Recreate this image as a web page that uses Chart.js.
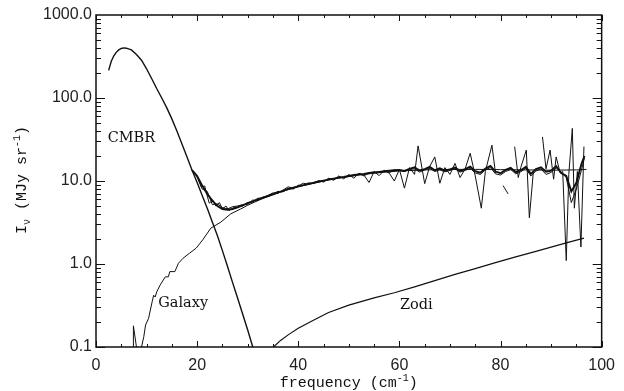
<!DOCTYPE html>
<html>
<head>
<meta charset="utf-8">
<script src="https://cdn.jsdelivr.net/npm/chart.js@4.4.1/dist/chart.umd.min.js"></script>
<style>
  html, body { margin: 0; padding: 0; background: #fff; }
  canvas { display: block; }
</style>
</head>
<body>
<canvas id="spectrum" width="624" height="391"></canvas>
<script>
// CMBR blackbody curve
const cmbrFreq = [2.5, 3, 3.5, 4, 4.5, 5, 5.5, 6, 7, 8, 9, 10, 11, 12, 13, 14, 15, 16, 17, 18, 19, 20, 21, 22, 23, 24, 25, 26, 27, 28, 29, 30, 31, 32];
const cmbr = [215, 275, 320, 355, 380, 395, 402, 398, 380, 335, 285, 225, 172, 130, 100, 76, 56, 40, 28, 19.5, 13.5, 9.6, 6.7, 4.7, 3.2, 2.2, 1.45, 0.94, 0.6, 0.39, 0.25, 0.16, 0.1, 0.062];

// Galaxy model
const galFreq = [7.35, 7.4, 8.0, 8.3, 8.9, 9.0, 9.45, 9.8, 10.4, 11.1, 11.4, 11.7, 12.0, 12.7, 13.7, 14.3, 14.6, 15.6, 16.3, 17.2, 18.5, 19.8, 21.1, 22.7, 24.7, 26.6, 28.6, 30, 32, 34, 36, 38, 40, 42, 44, 46, 48, 50, 52, 54, 56, 58, 60, 65, 70, 75, 80, 85, 90, 95, 97];
const galaxy = [0.02, 0.18, 0.1, 0.05, 0.07, 0.1, 0.133, 0.184, 0.222, 0.35, 0.42, 0.40, 0.46, 0.56, 0.70, 0.70, 0.81, 0.81, 1.02, 1.17, 1.35, 1.55, 1.95, 2.7, 3.2, 4.0, 4.6, 5.1, 5.8, 6.5, 7.2, 7.9, 8.5, 9.1, 9.7, 10.3, 10.8, 11.3, 11.8, 12.2, 12.6, 12.9, 13.2, 13.6, 13.8, 13.8, 13.7, 13.6, 13.5, 13.6, 13.8];

// Zodiacal light model
const zodiFreq = [34.5, 35.1, 36.5, 38, 40, 43, 46, 50, 55, 59, 63, 67, 71, 75, 79, 83, 87, 90, 93, 96.5];
const zodi = [0.09, 0.1, 0.12, 0.14, 0.168, 0.21, 0.26, 0.32, 0.39, 0.45, 0.53, 0.63, 0.75, 0.88, 1.04, 1.22, 1.42, 1.6, 1.8, 2.05];

// measured spectra
const freqA = [19, 20, 21, 22, 23, 24, 25, 26, 27, 28, 29, 30, 31, 32, 33, 34, 35, 36, 37, 38, 39, 40, 41, 42, 43, 44, 45, 46, 47, 48, 49, 50, 51, 52, 53, 54, 55, 56, 57, 58, 59, 60, 61, 62, 63, 64, 65, 66, 67, 68, 69, 70, 71, 72, 73, 74, 75, 76, 77, 78, 79, 80, 81, 82, 83, 84, 85, 86, 87, 88, 89, 90, 91, 92, 93, 94, 95, 96, 96.6];
const specA = [13.5, 11.5, 8.8, 7.0, 5.8, 5.0, 4.6, 4.5, 4.6, 4.8, 5.1, 5.4, 5.7, 6.0, 6.3, 6.6, 6.9, 7.3, 7.6, 8.0, 8.3, 8.6, 8.9, 9.2, 9.5, 9.8, 10.1, 10.4, 10.7, 11.0, 11.2, 11.5, 11.8, 12.0, 12.2, 12.5, 12.7, 12.9, 13.1, 13.3, 13.5, 13.6, 13.2, 14.0, 14.6, 13.4, 13.9, 14.8, 13.5, 14.2, 13.3, 13.8, 14.5, 13.2, 13.9, 14.9, 13.1, 12.6, 14.1, 15.2, 13.0, 12.4, 13.6, 14.4, 12.8, 13.5, 14.8, 12.2, 13.9, 14.6, 12.9, 13.3, 15.1, 12.5, 11.5, 7.5, 9.5, 16.0, 20.0];

const freqB = [19, 20, 20.8, 21.5, 22, 22.4, 23.1, 23.7, 24.4, 25, 25.7, 26.3, 27, 28, 29, 30, 31, 32, 33, 34, 35, 36, 37, 38, 39, 40, 41, 42, 43, 44, 45, 46, 47, 48, 49, 50, 51, 52, 53, 54, 55, 56, 57, 58, 59, 60, 61, 62, 63, 64, 65, 66, 67, 68, 69, 70, 71, 72, 73, 74, 75, 76, 77, 78, 79, 80, 81, 82, 83, 84, 85, 86, 87, 88, 89, 90, 91, 92, 93, 94, 95, 96, 96.6];
const specB = [13.5, 11.2, 8.5, 8.7, 6.6, 5.4, 5.9, 5.0, 5.5, 4.6, 5.0, 4.4, 4.7, 4.9, 5.0, 5.5, 5.6, 6.2, 6.2, 6.7, 7.2, 7.1, 7.8, 8.5, 8.2, 8.7, 9.4, 9.1, 9.6, 10.0, 10.0, 10.6, 10.6, 11.2, 11.0, 11.6, 11.6, 12.2, 11.5, 12.6, 12.8, 12.6, 13.2, 12.6, 13.6, 13.4, 13.0, 13.8, 14.0, 12.8, 13.6, 14.2, 13.0, 13.6, 12.9, 13.4, 14.0, 12.8, 13.4, 14.2, 12.5, 12.0, 13.6, 14.5, 12.2, 11.8, 13.0, 13.8, 12.2, 12.9, 14.2, 11.5, 13.2, 14.0, 12.0, 12.7, 14.4, 12.8, 11.0, 5.5, 8.0, 13.5, 19.0];

const freqC = [19, 20, 21, 22, 23, 24, 25, 26, 27, 28, 29, 30, 31, 32, 33, 34, 35, 36, 37, 38, 39, 40, 41, 42, 43, 44, 45, 46, 47, 48, 49, 50, 51, 52, 53, 54, 55, 56, 57, 58, 59, 60, 61, 62, 63, 63.7, 65, 66, 67, 68, 69, 70, 71, 72, 73, 74, 75, 76.2, 77, 78.3, 79, 79.8, 80.5, 81.5, 82, 82.8, 83.5, 84, 85.1, 85.7, 86.5, 87.2, 88.3, 89, 89.8, 90.5, 91, 91.8, 92.3, 93.0, 93.5, 94.2, 94.6, 95.2, 95.9, 96.5];
const specC = [13.5, 11.5, 8.0, 7.5, 5.2, 5.3, 4.8, 4.6, 4.9, 5.0, 5.2, 5.2, 5.9, 5.8, 6.4, 6.5, 7.0, 7.5, 7.4, 8.2, 8.0, 8.9, 8.8, 9.5, 9.3, 10.1, 9.7, 10.8, 10.2, 11.5, 10.6, 12.0, 10.8, 12.4, 11.8, 9.6, 13.0, 11.6, 13.5, 12.4, 10.0, 13.8, 8.2, 14.5, 12.0, 26.5, 9.3, 15.0, 19.5, 9.4, 14.5, 12.0, 16.3, 11.0, 14.0, 21.6, 11.5, 4.7, 13.0, 27.0, 12.5, null, 8.8, 7.0, null, 25.9, 11.0, 14.5, 23.6, 3.6, 13.0, null, 34.0, 14.0, 23.6, 10.5, 19.5, 12.5, 13.0, 1.1, 12.0, 43.0, 4.7, 13.0, 1.6, 26.0];

const yTickValues = [0.1, 1, 10, 100, 1000];
const xTickValues = [0, 20, 40, 60, 80, 100];

function pts(xs, ys) {
  return xs.map((x, i) => ({ x: x, y: ys[i] }));
}

function line(label, xs, ys, width) {
  return {
    label: label,
    data: pts(xs, ys),
    borderColor: '#111',
    borderWidth: width,
    pointRadius: 0,
    tension: 0,
    fill: false,
    spanGaps: false,
    clip: 0
  };
}

// inward ticks, frame, titles and curve labels
const framePlugin = {
  id: 'frame',
  afterDraw(chart) {
    const c = chart.ctx;
    const a = chart.chartArea;
    const xs = chart.scales.x;
    const ys = chart.scales.y;
    c.save();
    c.strokeStyle = '#111';
    c.lineWidth = 1.5;
    c.strokeRect(a.left, a.top, a.right - a.left, a.bottom - a.top);

    c.lineWidth = 1;
    c.beginPath();
    for (let v = 0; v <= 100; v += 5) {
      const px = Math.round(xs.getPixelForValue(v)) + 0.5;
      const len = v % 20 === 0 ? 6 : 3;
      c.moveTo(px, a.bottom); c.lineTo(px, a.bottom - len);
      c.moveTo(px, a.top); c.lineTo(px, a.top + len);
    }
    for (let d = 0.1; d < 1000; d *= 10) {
      for (let m = 1; m < 10; m++) {
        const py = Math.round(ys.getPixelForValue(d * m)) + 0.5;
        const len = m === 1 ? 9 : 5;
        c.moveTo(a.left, py); c.lineTo(a.left + len, py);
        c.moveTo(a.right, py); c.lineTo(a.right - len, py);
      }
    }
    c.stroke();

    // curve labels
    c.fillStyle = '#111';
    c.font = '14.5px "DejaVu Serif"';
    c.textBaseline = 'alphabetic';
    c.textAlign = 'left';
    c.fillText('CMBR', xs.getPixelForValue(2.3), ys.getPixelForValue(29.5));
    c.fillText('Galaxy', xs.getPixelForValue(12.3), ys.getPixelForValue(0.3));
    c.fillText('Zodi', xs.getPixelForValue(60.1), ys.getPixelForValue(0.29));

    // x title
    const big = '15px "Liberation Mono"';
    const small = '10px "Liberation Mono"';
    const t1 = 'frequency (cm';
    c.font = big; const w1 = c.measureText(t1).width;
    c.font = small; const w2 = c.measureText('-1').width;
    c.font = big; const w3 = c.measureText(')').width;
    const x0 = (a.left + a.right) / 2 - (w1 + w2 + w3) / 2;
    const by = 387;
    c.fillText(t1, x0, by);
    c.font = small; c.fillText('-1', x0 + w1, by - 6);
    c.font = big; c.fillText(')', x0 + w1 + w2, by);

    // y title
    c.translate(26, 180);
    c.rotate(-Math.PI / 2);
    const parts = [
      ['I', big, 0], ['\u03bd', small, 4], [' (MJy sr', big, 0], ['-1', small, -6], [')', big, 0]
    ];
    let total = 0;
    parts.forEach(p => { c.font = p[1]; total += c.measureText(p[0]).width; });
    let cx = -total / 2;
    parts.forEach(p => {
      c.font = p[1];
      c.fillText(p[0], cx, p[2]);
      cx += c.measureText(p[0]).width;
    });
    c.restore();
  }
};

new Chart(document.getElementById('spectrum'), {
  type: 'line',
  data: {
    datasets: [
      line('CMBR', cmbrFreq, cmbr, 1.4),
      line('Galaxy', galFreq, galaxy, 1),
      line('Zodi', zodiFreq, zodi, 1.2),
      line('spectrum A', freqA, specA, 1.9),
      line('spectrum B', freqB, specB, 1),
      line('spectrum C', freqC, specC, 1)
    ]
  },
  options: {
    responsive: false,
    animation: false,
    devicePixelRatio: 1,
    layout: { padding: { left: 0, right: 14, top: 15, bottom: 0 } },
    plugins: {
      legend: { display: false },
      tooltip: { enabled: false }
    },
    scales: {
      x: {
        type: 'linear',
        min: 0,
        max: 100,
        afterBuildTicks: s => { s.ticks = xTickValues.map(v => ({ value: v })); },
        afterFit: s => { s.height = 44; },
        grid: { display: false, drawTicks: false },
        border: { display: false },
        ticks: {
          color: '#222',
          padding: 9,
          maxRotation: 0,
          font: { family: 'Liberation Sans', size: 16 }
        }
      },
      y: {
        type: 'logarithmic',
        min: 0.1,
        max: 1000,
        afterBuildTicks: s => { s.ticks = yTickValues.map(v => ({ value: v })); },
        afterFit: s => { s.width = 96; },
        grid: { display: false, drawTicks: false },
        border: { display: false },
        ticks: {
          color: '#222',
          padding: 4,
          font: { family: 'Liberation Sans', size: 16 },
          callback: v => Number(v).toFixed(1)
        }
      }
    }
  },
  plugins: [framePlugin]
});
</script>
</body>
</html>
